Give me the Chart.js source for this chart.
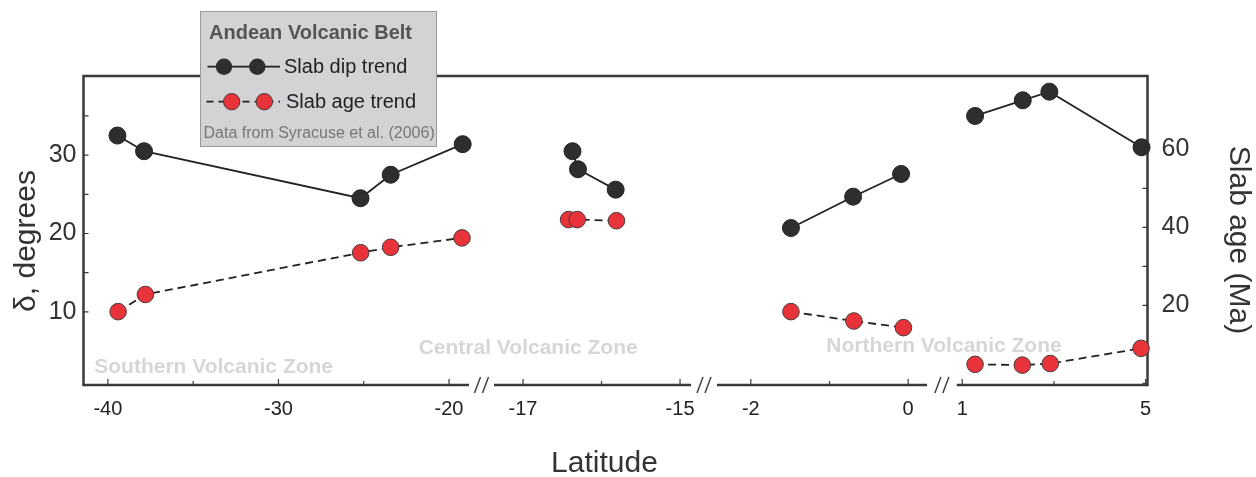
<!DOCTYPE html>
<html>
<head>
<meta charset="utf-8">
<script src="https://cdn.jsdelivr.net/npm/chart.js@4.4.1/dist/chart.umd.min.js"></script>
<style>
html,body{margin:0;padding:0;background:#ffffff;}
#wrap{width:1256px;height:477px;}
</style>
</head>
<body>
<div id="wrap"><canvas id="c" width="1256" height="477"></canvas></div>
<script>
// ---------------- data ----------------
const dipLat = [-39.44, -37.88, -25.19, -23.42, -19.20, -16.37, -16.30, -15.82, -1.49, -0.70, -0.09, 1.28, 2.32, 2.90, 4.91];
const dipDeg = [32.5, 30.5, 24.5, 27.5, 31.4, 30.5, 28.2, 25.6, 20.7, 24.7, 27.6, 35.0, 37.0, 38.1, 31.0];
const ageLat = [-39.40, -37.80, -25.18, -23.42, -19.24, -16.42, -16.31, -15.81, -1.49, -0.69, -0.06, 1.28, 2.31, 2.92, 4.90];
const ageMa  = [18.4, 22.8, 33.5, 34.9, 37.3, 42.0, 42.0, 41.7, 18.4, 16.0, 14.3, 4.9, 4.7, 5.1, 9.0];

const xSegmentRanges = [[-41.43, -18.83], [-17.37, -14.86], [-2.43, 0.24], [0.88, 5.04]];
const xMajorTicks = [-40, -30, -20, -17, -15, -2, 0, 1, 5];
const xMinorTicks = [-35, -25, -16, -1, 3];
const yLeftTicks = [10, 15, 20, 25, 30, 35];
const yLeftLabels = [10, 20, 30];
const yRightTicks = [0, 10, 20, 30, 40, 50, 60];
const yRightLabels = [20, 40, 60];

const zoneNames = ['Southern Volcanic Zone', 'Central Volcanic Zone', 'Northern Volcanic Zone'];
const zoneLat = [-40.8, -21.78, -1.04];
const zoneDeg = [3.0, 5.4, 5.6];

const xTitle = 'Latitude';
const yLeftTitle = 'δ, degrees';
const yRightTitle = 'Slab age (Ma)';
const legendTitle = 'Andean Volcanic Belt';
const seriesNames = ['Slab dip trend', 'Slab age trend'];
const sourceNote = 'Data from Syracuse et al. (2006)';

// ---------------- layout / style ----------------
const FONT = "'Liberation Sans', Arial, Helvetica, sans-serif";
Chart.defaults.font.family = FONT;
const segFractions = [[0, 0.3623], [0.3858, 0.5710], [0.5954, 0.7928], [0.8207, 1]];
const segments = xSegmentRanges.map((r, i) => ({min: r[0], max: r[1], from: segFractions[i][0], to: segFractions[i][1]}));

class BrokenLinearScale extends Chart.LinearScale {
  determineDataLimits() {
    this.min = segments[0].min;
    this.max = segments[segments.length - 1].max;
  }
  buildTicks() {
    return xMajorTicks.concat(xMinorTicks).sort((a, b) => a - b).map(v => ({value: v}));
  }
  _seg(value) {
    for (const g of segments) if (value >= g.min - 1e-9 && value <= g.max + 1e-9) return g;
    let best = segments[0], bd = Infinity;
    for (const g of segments) {
      const d = Math.min(Math.abs(value - g.min), Math.abs(value - g.max));
      if (d < bd) { bd = d; best = g; }
    }
    return best;
  }
  getPixelForValue(value) {
    const g = this._seg(value);
    const f = g.from + (value - g.min) / (g.max - g.min) * (g.to - g.from);
    return this.left + f * this.width;
  }
  getValueForPixel(pixel) {
    const f = (pixel - this.left) / this.width;
    let g = segments[0];
    for (const h of segments) if (f >= h.from) g = h;
    return g.min + (f - g.from) / (g.to - g.from) * (g.max - g.min);
  }
}
BrokenLinearScale.id = 'brokenLinear';
BrokenLinearScale.defaults = {};
Chart.register(BrokenLinearScale);

function segIndex(lat) {
  return xSegmentRanges.findIndex(r => lat >= r[0] && lat <= r[1]);
}

const dipStyle = {
  borderColor: '#222222', borderWidth: 1.8, backgroundColor: '#2e2e2e',
  pointBackgroundColor: '#2e2e2e', pointBorderColor: '#222222', pointBorderWidth: 1,
  pointRadius: 8.5, pointHoverRadius: 8.5, tension: 0, clip: false, showLine: true
};
const ageStyle = {
  borderColor: '#222222', borderWidth: 1.8, borderDash: [8, 5], backgroundColor: '#e8333b',
  pointBackgroundColor: '#e8333b', pointBorderColor: '#4a3a3a', pointBorderWidth: 1,
  pointRadius: 8.3, pointHoverRadius: 8.3, tension: 0, clip: false, showLine: true
};

const datasets = [];
xSegmentRanges.forEach((r, si) => {
  const dip = dipLat.map((x, i) => ({x: x, y: dipDeg[i]})).filter(p => segIndex(p.x) === si);
  const age = ageLat.map((x, i) => ({x: x, y: ageMa[i]})).filter(p => segIndex(p.x) === si);
  datasets.push(Object.assign({label: seriesNames[0], data: dip, xAxisID: 'x', yAxisID: 'y'}, dipStyle));
  datasets.push(Object.assign({label: seriesNames[1], data: age, xAxisID: 'x', yAxisID: 'y2'}, ageStyle));
});

const framePlugin = {
  id: 'frameAndExtras',
  beforeDatasetsDraw(chart) {
    const {ctx, chartArea: a, scales} = chart;
    const x = scales.x, y = scales.y, y2 = scales.y2;
    ctx.save();
    // axis titles
    ctx.fillStyle = '#333333';
    ctx.font = '30px ' + FONT;
    ctx.textBaseline = 'middle';
    ctx.textAlign = 'center';
    ctx.fillText(xTitle, 604.5, 464);
    ctx.save(); ctx.translate(27, 241); ctx.rotate(-Math.PI / 2); ctx.fillText(yLeftTitle, 0, 0); ctx.restore();
    ctx.save(); ctx.translate(1238, 240); ctx.rotate(Math.PI / 2); ctx.fillText(yRightTitle, 0, 0); ctx.restore();
    // zone labels
    ctx.font = 'bold 21px ' + FONT;
    ctx.fillStyle = '#d6d6d6';
    ctx.textAlign = 'left';
    zoneNames.forEach((n, i) => {
      ctx.fillText(n, x.getPixelForValue(zoneLat[i]), y.getPixelForValue(zoneDeg[i]));
    });
    // frame
    ctx.strokeStyle = '#3a3a3a';
    ctx.lineWidth = 2.5;
    ctx.lineCap = 'butt';
    ctx.lineJoin = 'miter';
    ctx.beginPath();
    ctx.moveTo(a.left, a.bottom + 1.25);
    ctx.lineTo(a.left, a.top);
    ctx.lineTo(a.right, a.top);
    ctx.lineTo(a.right, a.bottom + 1.25);
    ctx.stroke();
    segments.forEach(g => {
      ctx.beginPath();
      ctx.moveTo(Math.max(a.left, x.getPixelForValue(g.min)), a.bottom);
      ctx.lineTo(Math.min(a.right, x.getPixelForValue(g.max)), a.bottom);
      ctx.stroke();
    });
    // break marks
    ctx.lineWidth = 1.4;
    for (let i = 0; i < segments.length - 1; i++) {
      const e = x.getPixelForValue(segments[i].max);
      const s = x.getPixelForValue(segments[i + 1].min);
      const c = (e + s) / 2;
      [c - 4, c + 4].forEach(cx => {
        ctx.beginPath();
        ctx.moveTo(cx + 3, a.bottom - 8);
        ctx.lineTo(cx - 3, a.bottom + 8);
        ctx.stroke();
      });
    }
    // ticks
    ctx.lineWidth = 1.2;
    ctx.beginPath();
    xMajorTicks.forEach(v => { const p = x.getPixelForValue(v); ctx.moveTo(p, a.bottom); ctx.lineTo(p, a.bottom - 6); });
    xMinorTicks.forEach(v => { const p = x.getPixelForValue(v); ctx.moveTo(p, a.bottom); ctx.lineTo(p, a.bottom - 4); });
    yLeftTicks.forEach(v => { const p = y.getPixelForValue(v); ctx.moveTo(a.left, p); ctx.lineTo(a.left + 5, p); });
    yRightTicks.forEach(v => { const p = y2.getPixelForValue(v); ctx.moveTo(a.right, p); ctx.lineTo(a.right - 5, p); });
    ctx.stroke();
    ctx.restore();
  },
  afterDraw(chart) {
    const ctx = chart.ctx;
    ctx.save();
    // legend box
    ctx.fillStyle = '#d3d3d5';
    ctx.fillRect(200.5, 11.5, 236, 135);
    ctx.strokeStyle = '#9a9a9a';
    ctx.lineWidth = 1;
    ctx.strokeRect(200.5, 11.5, 236, 135);
    ctx.textBaseline = 'middle';
    ctx.textAlign = 'left';
    ctx.font = 'bold 20px ' + FONT;
    ctx.fillStyle = '#555555';
    ctx.fillText(legendTitle, 209, 33.5);
    // item 1
    ctx.strokeStyle = '#222222';
    ctx.lineWidth = 1.8;
    ctx.beginPath(); ctx.moveTo(207.5, 66.7); ctx.lineTo(280, 66.7); ctx.stroke();
    [224, 257.3].forEach(cx => {
      ctx.beginPath(); ctx.arc(cx, 66.7, 8.2, 0, Math.PI * 2);
      ctx.fillStyle = '#2e2e2e'; ctx.fill();
    });
    ctx.font = '20px ' + FONT;
    ctx.fillStyle = '#222222';
    ctx.fillText(seriesNames[0], 284, 67);
    // item 2
    ctx.setLineDash([7, 5]);
    ctx.beginPath(); ctx.moveTo(206.5, 101.7); ctx.lineTo(280, 101.7); ctx.stroke();
    ctx.setLineDash([]);
    [231.7, 264.3].forEach(cx => {
      ctx.beginPath(); ctx.arc(cx, 101.7, 8.2, 0, Math.PI * 2);
      ctx.fillStyle = '#e8333b'; ctx.fill();
      ctx.lineWidth = 1; ctx.strokeStyle = '#4a3a3a'; ctx.stroke();
    });
    ctx.fillStyle = '#222222';
    ctx.fillText(seriesNames[1], 286, 102);
    // source
    ctx.font = '16px ' + FONT;
    ctx.fillStyle = '#777777';
    ctx.fillText(sourceNote, 203.5, 133.5);
    ctx.restore();
  }
};

new Chart(document.getElementById('c'), {
  type: 'line',
  data: {datasets: datasets},
  plugins: [framePlugin],
  options: {
    responsive: false,
    animation: false,
    devicePixelRatio: 1,
    parsing: true,
    layout: {padding: {top: 76, left: 0, right: 0, bottom: 0}},
    plugins: {legend: {display: false}, tooltip: {enabled: false}},
    scales: {
      x: {
        type: 'brokenLinear', position: 'bottom',
        grid: {display: false, drawTicks: false}, border: {display: false},
        ticks: {
          autoSkip: false, maxRotation: 0, minRotation: 0, padding: 12,
          font: {size: 20}, color: '#222222',
          callback: v => xMajorTicks.includes(v) ? String(v) : ''
        },
        title: {display: false},
        afterFit: s => { s.height = 92; }
      },
      y: {
        type: 'linear', position: 'left', min: 0.67, max: 40.1,
        afterBuildTicks: s => { s.ticks = yLeftTicks.map(v => ({value: v})); },
        grid: {display: false, drawTicks: false}, border: {display: false},
        ticks: {padding: 7, font: {size: 25}, color: '#333333', callback: v => yLeftLabels.includes(v) ? String(v) : ''},
        title: {display: false},
        afterFit: s => { s.width = 83.5; }
      },
      y2: {
        type: 'linear', position: 'right', min: -0.4, max: 78.8,
        afterBuildTicks: s => { s.ticks = yRightTicks.map(v => ({value: v})); },
        grid: {display: false, drawTicks: false}, border: {display: false},
        ticks: {padding: 14, font: {size: 25}, color: '#333333', callback: v => yRightLabels.includes(v) ? String(v) : ''},
        title: {display: false},
        afterFit: s => { s.width = 108.5; }
      }
    }
  }
});
</script>
</body>
</html>
